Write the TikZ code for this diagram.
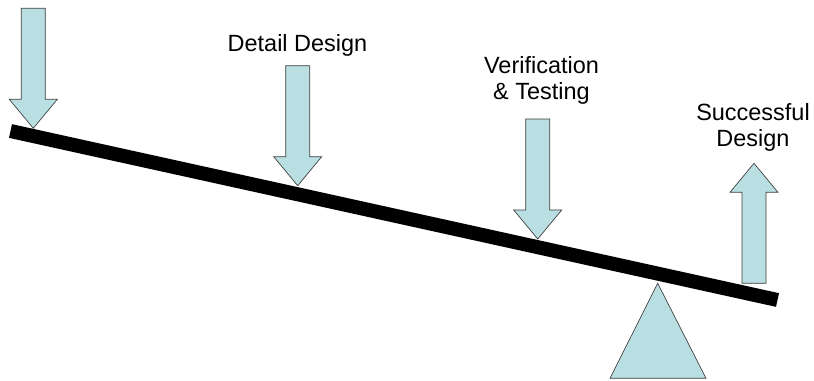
\documentclass[tikz,border=0pt]{standalone}
\usepackage{fontspec}
\setmainfont{Liberation Sans}
\usepackage{xcolor}
\definecolor{loadcyan}{RGB}{185,223,226}
\definecolor{loadedge}{RGB}{60,60,60}
\usetikzlibrary{positioning}

\begin{document}
\begin{tikzpicture}[
  x=0.75pt, y=-0.75pt,
  load/.style={draw=loadedge, line width=0.5pt, fill=loadcyan, line join=miter},
  beam/.style={line width=10.5pt, draw=black},
  steplabel/.style={align=center, anchor=base, inner sep=0pt, font=\fontsize{17.6}{19.5}\selectfont}
]
\useasboundingbox (0,0) rectangle (814,380);

% Pivot
\draw[load] (657.7,283.3) -- (706,378.3) -- (610,378.3) -- cycle;

% Beam
\coordinate (beamL) at (10.5,131);
\coordinate (beamR) at (777.5,300);
\draw[beam] (beamL) -- (beamR);

% Tips of the loads
\coordinate (tip1) at (33.3,128.3);
\coordinate (tip2) at (297.7,185.7);
\coordinate (tip3) at (537.7,239);
\coordinate (tip4) at (754,163.3);

% Downward loads
\foreach \t in {tip1,tip2,tip3}
  \draw[load] (\t) -- ++(-24,-29) -- ++(12,0) -- ++(0,-91) -- ++(24,0)
    -- ++(0,91) -- ++(12,0) -- cycle;

% Upward load
\draw[load] (tip4) -- ++(-24,29) -- ++(12,0) -- ++(0,91) -- ++(24,0)
  -- ++(0,-91) -- ++(12,0) -- cycle;

% Labels (base = last line)
\node[steplabel] (detail) at (297.5,51.5) {Detail Design};
\node[steplabel] (verify) at (541.5,99.5) {Verification\\\& Testing};
\node[steplabel] (success) at (753,146.5) {Successful\\Design};

\end{tikzpicture}
\end{document}
